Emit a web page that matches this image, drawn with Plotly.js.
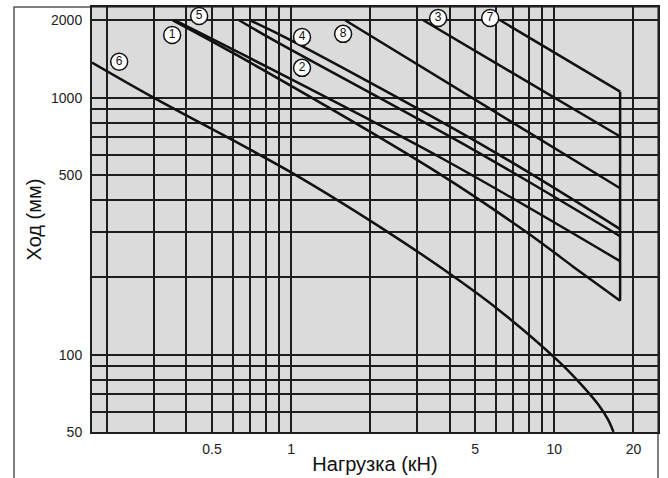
<!DOCTYPE html>
<html><head><meta charset="utf-8">
<script src="https://cdn.plot.ly/plotly-3.0.1.min.js"></script>
<style>html,body{margin:0;padding:0;background:#fff}#chart{width:668px;height:478px}</style>
</head><body><div id="chart"></div>
<script>
// Curves: load (kN) vs stroke (mm)
const curve1X = [0.355, 0.64, 3.69, 7.76, 11.8, 17.8];
const curve1Y = [2000, 1440, 503, 302, 220, 162];
const curve2X = [0.634, 0.854, 4.92, 17.8];
const curve2Y = [2000, 1678, 628, 289];
const curve3X = [3.18, 17.8];
const curve3Y = [2000, 706];
const curve4X = [0.698, 0.991, 5.71, 17.8];
const curve4Y = [2000, 1678, 628, 308];
const curve5X = [0.362, 0.64, 3.69, 17.8];
const curve5Y = [2000, 1490, 585, 231];
const curve6X = [0.175, 0.3, 1.0, 2.24, 4.02, 6.07, 10.3, 12.6, 14.7, 16.0, 16.8];
const curve6Y = [1370, 1000, 512, 308, 206, 151, 95, 77, 64, 56, 50];
const curve7X = [6.23, 17.8];
const curve7Y = [2000, 1055];
const curve8X = [1.605, 17.8];
const curve8Y = [2000, 444];
const limitX = [17.8, 17.8];
const limitY = [1055, 162];

// Circled curve numbers
const labelText = ['1', '2', '3', '4', '5', '6', '7', '8'];
const labelX = [0.353, 1.10, 3.62, 1.10, 0.447, 0.222, 5.71, 1.576];
const labelY = [1754, 1306, 2042, 1722, 2080, 1379, 2042, 1771];

// Grid / tick values
const xGrid = [0.2,0.3,0.4,0.5,0.6,0.7,0.8,0.9,1,2,3,4,5,6,7,8,9,10,20];
const xTickText = ['','','','0.5','','','','','1','','','','5','','','','','10','20'];
const yGrid = [50,60,70,80,90,100,200,300,400,500,600,700,800,900,1000,2000];
const yTickText = ['50','','','','','100','','','','500','','','','','1000','2000'];

const lineStyle = {color: '#111', width: 2.5};
const curves = [
  [curve1X, curve1Y, 'spline'], [curve2X, curve2Y, 'spline'], [curve3X, curve3Y, 'linear'],
  [curve4X, curve4Y, 'spline'], [curve5X, curve5Y, 'spline'], [curve6X, curve6Y, 'spline'],
  [curve7X, curve7Y, 'linear'], [curve8X, curve8Y, 'linear'], [limitX, limitY, 'linear']
];
const traces = curves.map(c => ({
  x: c[0], y: c[1], type: 'scatter', mode: 'lines',
  line: Object.assign({shape: c[2], smoothing: 1}, lineStyle),
  hoverinfo: 'skip', showlegend: false, cliponaxis: true
}));
traces.push({
  x: labelX, y: labelY, text: labelText, type: 'scatter', mode: 'markers+text',
  marker: {symbol: 'circle', size: 17, color: '#fff', line: {color: '#111', width: 1.5}},
  textposition: 'middle center',
  textfont: {family: 'Liberation Sans, Arial, sans-serif', size: 12, color: '#111'},
  showlegend: false, cliponaxis: false, hoverinfo: 'skip'
});

const font = {family: 'Liberation Sans, Arial, sans-serif', size: 14, color: '#222'};
const layout = {
  width: 668, height: 478,
  margin: {l: 92, r: 10, t: 7, b: 46},
  paper_bgcolor: '#ffffff',
  plot_bgcolor: '#dbdbdb',
  font: font,
  xaxis: {
    type: 'log', range: [Math.log10(0.175), Math.log10(24.8)],
    tickmode: 'array', tickvals: xGrid, ticktext: xTickText,
    showgrid: true, gridcolor: '#1e1e1e', gridwidth: 2,
    showline: true, linecolor: '#1e1e1e', linewidth: 2, mirror: true,
    zeroline: false, ticks: 'outside', ticklen: 3, tickcolor: 'rgba(0,0,0,0)',
    tickfont: {family: font.family, size: 14, color: '#222'},
    title: {text: 'Нагрузка (кН)', font: {family: font.family, size: 20, color: '#111'}, standoff: 1},
    automargin: false, fixedrange: true
  },
  yaxis: {
    type: 'log', range: [Math.log10(50), Math.log10(2253)],
    tickmode: 'array', tickvals: yGrid, ticktext: yTickText,
    showgrid: true, gridcolor: '#1e1e1e', gridwidth: 2,
    showline: true, linecolor: '#1e1e1e', linewidth: 2, mirror: true,
    zeroline: false, ticks: 'outside', ticklen: 5, tickcolor: 'rgba(0,0,0,0)',
    tickfont: {family: font.family, size: 14, color: '#222'},
    title: {text: 'Ход (мм)', font: {family: font.family, size: 20, color: '#111'}, standoff: 4},
    automargin: false, fixedrange: true
  },
  shapes: [{
    type: 'rect', xref: 'paper', yref: 'paper',
    x0: -0.1378, x1: 1, y0: -0.3, y1: 1,
    line: {color: '#555', width: 1.5}, layer: 'below'
  }]
};
Plotly.newPlot('chart', traces, layout, {displayModeBar: false, staticPlot: true});
</script>
</body></html>
